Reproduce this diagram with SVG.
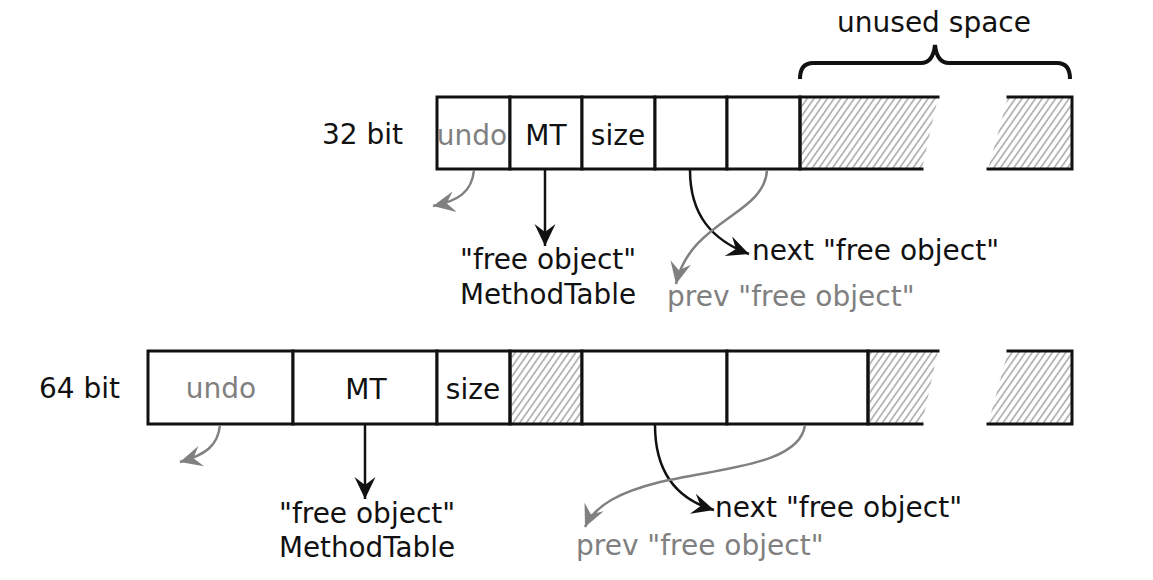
<svg xmlns="http://www.w3.org/2000/svg" width="1153" height="580" viewBox="0 0 1153 580">
<style>
text{font-family:"DejaVu Sans","Liberation Sans",sans-serif;font-size:28px;fill:#111}
.g{fill:#808080}
.m{text-anchor:middle}
.cell{fill:#fff;stroke:#111;stroke-width:3}
.hb{fill:url(#hatch);stroke:none}
.edge{fill:none;stroke:#111;stroke-width:3;stroke-linecap:square}
.ab{fill:none;stroke:#111;stroke-width:2.5}
.ag{fill:none;stroke:#808080;stroke-width:2.5}
</style>
<defs>
<pattern id="hatch" patternUnits="userSpaceOnUse" width="5.5" height="10" patternTransform="rotate(35)">
<line x1="2.75" y1="0" x2="2.75" y2="10" stroke="#777" stroke-width="1"/>
</pattern>
<marker id="mb" viewBox="-24 -12 26 24" markerWidth="26" markerHeight="24" refX="0" refY="0" orient="auto" markerUnits="userSpaceOnUse">
<path d="M0,0 L-22,-10.5 L-14,0 L-22,10.5 Z" fill="#111"/>
</marker>
<marker id="mg" viewBox="-24 -12 26 24" markerWidth="26" markerHeight="24" refX="0" refY="0" orient="auto" markerUnits="userSpaceOnUse">
<path d="M0,0 L-22,-10.5 L-14,0 L-22,10.5 Z" fill="#808080"/>
</marker>
</defs>

<g id="brace">
<path d="M800,79 Q800,63 813,63 L921,63 Q933,63 935,45 Q937,63 949,63 L1057,63 Q1070,63 1070,79" fill="none" stroke="#111" stroke-width="4"/>
<text class="m" x="934" y="32">unused space</text>
</g>

<g id="row32">
<text x="322" y="144">32 bit</text>
<g id="r32-undo"><rect class="cell" x="437" y="97" width="73" height="72"/><text class="m g" x="472" y="145">undo</text></g>
<g id="r32-mt"><rect class="cell" x="510" y="97" width="72" height="72"/><text class="m" x="546" y="145">MT</text></g>
<g id="r32-size"><rect class="cell" x="582" y="97" width="73" height="72"/><text class="m" x="618" y="145">size</text></g>
<g id="r32-next"><rect class="cell" x="655" y="97" width="72" height="72"/></g>
<g id="r32-prev"><rect class="cell" x="727" y="97" width="73" height="72"/></g>
<g id="r32-unused">
<polygon class="hb" points="800,97 938,97 922,169 800,169"/>
<polygon class="hb" points="1008,97 1072,97 1072,169 988,169"/>
<path class="edge" d="M800,97 H938 M800,169 H922 M800,97 V169 M1008,97 H1072 V169 H988"/>
</g>
</g>

<g id="row64">
<text x="39" y="398">64 bit</text>
<g id="r64-undo"><rect class="cell" x="148" y="351" width="145" height="73"/><text class="m g" x="221" y="398">undo</text></g>
<g id="r64-mt"><rect class="cell" x="293" y="351" width="144" height="73"/><text class="m" x="366" y="399">MT</text></g>
<g id="r64-size"><rect class="cell" x="437" y="351" width="73" height="73"/><text class="m" x="473" y="399">size</text></g>
<g id="r64-pad"><rect x="510" y="351" width="72" height="73" fill="url(#hatch)" stroke="#111" stroke-width="3"/></g>
<g id="r64-next"><rect class="cell" x="582" y="351" width="145" height="73"/></g>
<g id="r64-prev"><rect class="cell" x="727" y="351" width="141" height="73"/></g>
<g id="r64-unused">
<polygon class="hb" points="868,351 938,351 922,424 868,424"/>
<polygon class="hb" points="1008,351 1072,351 1072,424 988,424"/>
<path class="edge" d="M868,351 H938 M868,424 H922 M868,351 V424 M1008,351 H1072 V424 H988"/>
</g>
</g>

<g id="labels">
<g id="l32-mt"><text x="460" y="269">"free object"</text><text x="460" y="304" textLength="176" lengthAdjust="spacingAndGlyphs">MethodTable</text></g>
<g id="l32-next"><text x="752" y="260">next "free object"</text></g>
<g id="l32-prev"><text class="g" x="667" y="306">prev "free object"</text></g>
<g id="l64-mt"><text x="279" y="523">"free object"</text><text x="279" y="557" textLength="176" lengthAdjust="spacingAndGlyphs">MethodTable</text></g>
<g id="l64-next"><text x="715" y="517">next "free object"</text></g>
<g id="l64-prev"><text class="g" x="576" y="555">prev "free object"</text></g>
</g>

<g id="connectors">
<path class="ag" d="M474,170 C472,192 458,201 433,206" marker-end="url(#mg)"/>
<path class="ab" d="M545,170 V246" marker-end="url(#mb)"/>
<path class="ab" d="M690,170 C690,215 712,240 749,254" marker-end="url(#mb)"/>
<path class="ag" d="M767,170 C765,215 690,220 676,284" marker-end="url(#mg)"/>
<path class="ag" d="M220,425 C218,446 205,455 180,462" marker-end="url(#mg)"/>
<path class="ab" d="M365,425 V499" marker-end="url(#mb)"/>
<path class="ab" d="M655,425 C655,475 680,500 714,510" marker-end="url(#mb)"/>
<path class="ag" d="M805,425 C800,465 720,468 660,482 C620,492 595,505 585,527" marker-end="url(#mg)"/>
</g>
</svg>
